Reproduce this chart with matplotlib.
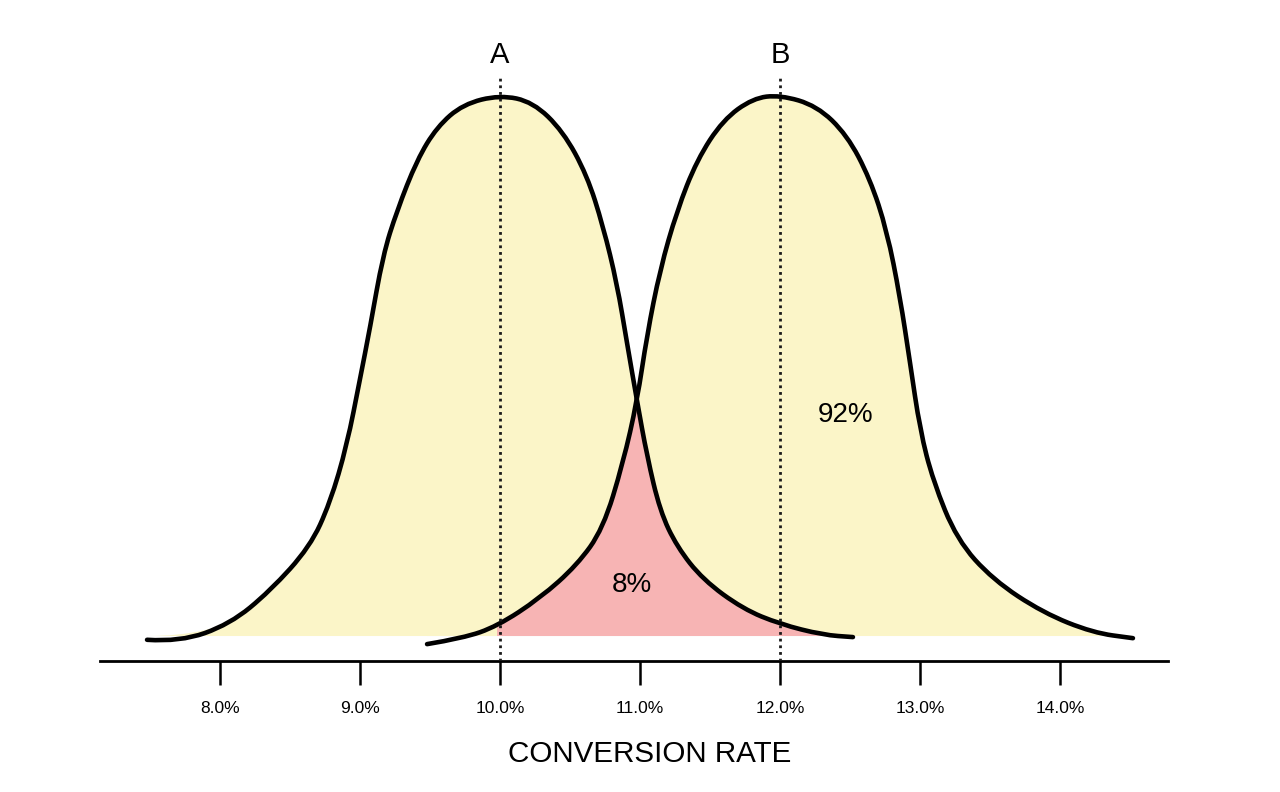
import matplotlib
matplotlib.use("Agg")
import matplotlib.pyplot as plt
from matplotlib.path import Path
from matplotlib.patches import PathPatch
import numpy as np

plt.rcParams['font.family'] = ['Liberation Sans', 'DejaVu Sans']

# ---- data (x in %, y = relative density, peak = 1) ----
a_x = [7.479, 7.714, 8.071, 8.357, 8.643, 8.786, 8.907, 9.000, 9.071, 9.164,
       9.264, 9.407, 9.550, 9.736, 10.000, 10.236, 10.450, 10.621, 10.736, 10.836,
       10.907, 10.979, 11.050, 11.143, 11.264, 11.450, 11.736, 12.000, 12.307, 12.521]
a_y = [-0.007, -0.011, 0.022, 0.083, 0.165, 0.246, 0.353, 0.475, 0.569, 0.704,
       0.786, 0.880, 0.941, 0.983, 1.000, 0.987, 0.933, 0.852, 0.758, 0.651,
       0.542, 0.434, 0.333, 0.231, 0.165, 0.104, 0.050, 0.022, 0.002, -0.002]

b_x = [9.479, 9.736, 9.979, 10.286, 10.550, 10.736, 10.879, 10.979, 11.050, 11.143,
       11.264, 11.407, 11.593, 11.807, 12.000, 12.264, 12.479, 12.643, 12.764, 12.857,
       12.929, 13.000, 13.093, 13.264, 13.521, 13.879, 14.236, 14.521]
b_y = [-0.015, -0.004, 0.018, 0.070, 0.131, 0.198, 0.320, 0.434, 0.556, 0.677,
       0.786, 0.880, 0.954, 0.994, 1.000, 0.980, 0.926, 0.845, 0.749, 0.627,
       0.505, 0.381, 0.287, 0.178, 0.104, 0.043, 0.006, -0.004]

group_labels = ['A', 'B']
group_means = [10.0, 12.0]
area_labels = ['8%', '92%']
tick_values = [8.0, 9.0, 10.0, 11.0, 12.0, 13.0, 14.0]
tick_labels = ['8.0%', '9.0%', '10.0%', '11.0%', '12.0%', '13.0%', '14.0%']
x_title = 'CONVERSION RATE'

# ---- styling ----
YELLOW = '#FBF5C8'
PINK = '#F7B4B4'


def smooth(xs, ys):
    """Quadratic-Bezier path through the read points (drawn by matplotlib's Path)."""
    pts = np.column_stack([xs, ys])
    verts = [pts[0]]
    codes = [Path.MOVETO]
    for i in range(1, len(pts) - 1):
        verts += [pts[i], (pts[i] + pts[i + 1]) / 2]
        codes += [Path.CURVE3, Path.CURVE3]
    verts.append(pts[-1])
    codes.append(Path.LINETO)
    return verts, codes


def area(segments):
    verts = [(segments[0][0][0], 0.0)]
    codes = [Path.MOVETO]
    for xs, ys in segments:
        v, c = smooth(xs, np.maximum(ys, 0))
        verts += v
        codes += [Path.LINETO] + c[1:]
    verts += [(verts[-1][0], 0.0), (0, 0)]
    codes += [Path.LINETO, Path.CLOSEPOLY]
    return Path(verts, codes)


fig = plt.figure(figsize=(12.8, 7.92), dpi=100)
ax = fig.add_axes([0.078125, 0.16540, 0.834375, 0.83460])
ax.set_xlim(7.1429, 14.7714)
ax.set_ylim(-0.0462, 1.1756)

a_x = np.array(a_x); a_y = np.array(a_y)
b_x = np.array(b_x); b_y = np.array(b_y)

ax.add_patch(PathPatch(area([(a_x, a_y)]), facecolor=YELLOW, lw=0, zorder=1))
ax.add_patch(PathPatch(area([(b_x, b_y)]), facecolor=YELLOW, lw=0, zorder=1))

# overlap region (pink): B's rising edge from mean A to the crossing, then A's falling tail
ia = 21  # crossing point index in A
ib = 7   # crossing point index in B
start_b = int(np.argmin(np.abs(b_x - group_means[0])))
pink = area([(b_x[start_b:ib + 1], b_y[start_b:ib + 1]), (a_x[ia:], a_y[ia:])])
ax.add_patch(PathPatch(pink, facecolor=PINK, lw=0, zorder=2))

for xs, ys in [(a_x, a_y), (b_x, b_y)]:
    v, c = smooth(xs, ys)
    ax.add_patch(PathPatch(Path(v, c), facecolor='none', edgecolor='black', lw=3.3,
                           capstyle='round', joinstyle='round', zorder=3, clip_on=False))

ax.vlines(group_means, -0.0462, 1.0333, colors='#1a1a1a', linestyles=(0, (1, 1.4)), lw=2.0, zorder=4)
for m, lab in zip(group_means, group_labels):
    ax.text(m, 1.0591, lab, ha='center', va='baseline', fontsize=21, color='black')

ax.text(10.943, 0.0813, area_labels[0], ha='center', va='baseline', fontsize=20, color='black', zorder=5)
ax.text(12.471, 0.3956, area_labels[1], ha='center', va='baseline', fontsize=20, color='black', zorder=5)

for s in ['top', 'left', 'right']:
    ax.spines[s].set_visible(False)
ax.spines['bottom'].set_linewidth(2.0)
ax.set_yticks([])
ax.set_xticks(tick_values)
ax.set_xticklabels(tick_labels)
ax.tick_params(axis='x', direction='out', length=17.3, width=1.8, pad=11.5, labelsize=12.5, colors='black')
ax.patch.set_alpha(0)

fig.text(650 / 1280, (792 - 762) / 792, x_title, ha='center', va='baseline', fontsize=21.3)

fig.savefig('out.png', dpi=100, facecolor='white')
